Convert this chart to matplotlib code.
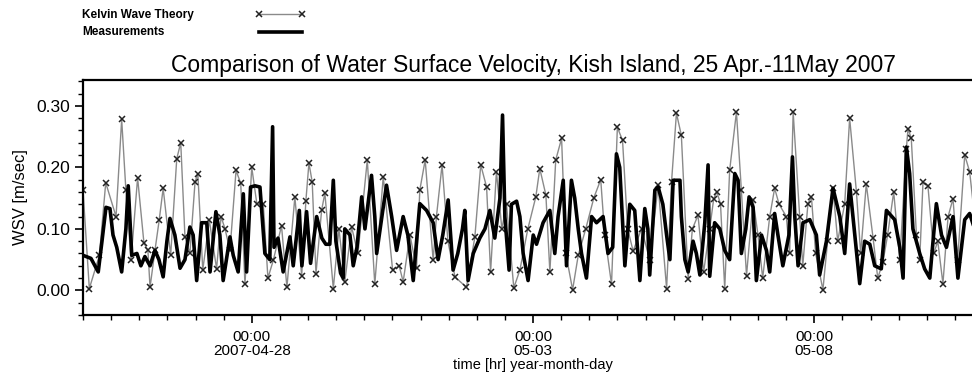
import matplotlib
matplotlib.use("Agg")
import matplotlib.pyplot as plt
import matplotlib.dates as mdates
from matplotlib.lines import Line2D
import pandas as pd
import numpy as np

plt.rcParams['font.family'] = ['Liberation Sans', 'DejaVu Sans']

start = pd.Timestamp("2007-04-25 00:00")

theory_hours = [0, 2.7, 7.0, 9.7, 14.1, 16.5, 18.3, 20.5, 23.3, 26.0, 27.7, 28.6, 30.7, 32.5, 34.2,
                37.4, 40.0, 41.7, 43.5, 45.6, 47.8, 49.0, 51.1, 53.9, 57.0, 58.9, 60.6, 62.7, 65.3,
                67.3, 69.1, 72.0, 74.2, 76.9, 78.9, 81.2, 84.7, 87.0, 90.4, 93.3, 95.1, 96.4, 97.8,
                99.4, 101.8, 103.2, 106.8, 109.2, 111.7, 114.6, 117.3, 121.3, 124.5, 128.1, 132.1,
                134.9, 136.6, 139.5, 142.3, 143.7, 146.0, 149.4, 150.8, 153.2, 155.7, 158.7, 163.6,
                167.2, 169.7, 172.2, 173.9, 176.4, 178.7, 180.7, 183.8, 186.4, 189.8, 193.2, 194.9,
                197.5, 199.2, 201.7, 204.2, 206.0, 208.9, 211.3, 214.5, 218.0, 220.9, 222.6, 225.5,
                228.0, 230.2, 232.4, 234.7, 238.3, 241.8, 245.4, 249.0, 251.1, 253.2, 255.3, 258.2,
                260.0, 262.4, 264.8, 267.4, 269.1, 270.4, 272.0, 273.8, 275.9, 278.8, 280.9, 283.1,
                285.9, 288.0, 290.0, 293.0, 295.1, 297.0, 300.1, 301.5, 303.0, 305.8, 307.1, 309.3,
                310.8, 312.6, 315.7, 317.7, 320.0, 322.0, 325.0, 327.1, 330.0, 331.8, 334.2, 337.1,
                339.1, 341.3, 343.3, 345.9, 348.5, 351.3, 352.0, 353.4, 355.6, 357.0, 358.4, 360.5,
                363.0, 364.7, 366.9, 369.1, 371.2, 373.2, 376.2, 378.3, 380.4]
theory_wsv = [0.163, 0.003, 0.057, 0.175, 0.120, 0.278, 0.163, 0.050, 0.183, 0.077, 0.065, 0.005,
              0.065, 0.114, 0.166, 0.057, 0.214, 0.240, 0.087, 0.060, 0.176, 0.190, 0.033, 0.114,
              0.035, 0.120, 0.100, 0.065, 0.195, 0.174, 0.010, 0.200, 0.140, 0.141, 0.020, 0.049,
              0.105, 0.005, 0.152, 0.024, 0.146, 0.207, 0.176, 0.027, 0.130, 0.158, 0.003, 0.100,
              0.014, 0.103, 0.060, 0.212, 0.010, 0.185, 0.033, 0.040, 0.014, 0.090, 0.036, 0.163,
              0.212, 0.049, 0.120, 0.204, 0.080, 0.022, 0.005, 0.087, 0.204, 0.168, 0.030, 0.193,
              0.100, 0.140, 0.004, 0.033, 0.100, 0.152, 0.198, 0.155, 0.030, 0.212, 0.247, 0.060,
              0.001, 0.057, 0.100, 0.151, 0.180, 0.090, 0.010, 0.265, 0.244, 0.100, 0.064, 0.100,
              0.050, 0.171, 0.003, 0.176, 0.288, 0.252, 0.019, 0.100, 0.122, 0.030, 0.100, 0.149,
              0.160, 0.141, 0.003, 0.195, 0.290, 0.163, 0.024, 0.147, 0.090, 0.020, 0.120, 0.166,
              0.140, 0.120, 0.060, 0.290, 0.120, 0.040, 0.141, 0.152, 0.060, 0.001, 0.080, 0.166,
              0.080, 0.141, 0.280, 0.160, 0.060, 0.173, 0.085, 0.020, 0.046, 0.090, 0.160, 0.050,
              0.230, 0.263, 0.247, 0.090, 0.050, 0.176, 0.170, 0.060, 0.080, 0.011, 0.120, 0.149,
              0.050, 0.220, 0.193, 0.120]

meas_hours = [0, 3.4, 6.5, 8.1, 9.8, 11.5, 12.8, 14.4, 16.5, 18.3, 19.3, 20.8, 23.0, 24.7, 26.4,
              28.6, 30.7, 32.4, 34.2, 35.8, 37.1, 39.2, 41.4, 43.5, 45.6, 47.0, 48.5, 50.6, 52.8,
              54.2, 56.7, 58.4, 59.8, 62.7, 64.1, 66.2, 68.4, 69.8, 71.5, 73.4, 75.5, 77.6, 79.7,
              80.9, 81.5, 83.2, 85.4, 88.3, 89.7, 92.3, 93.4, 95.4, 97.1, 99.7, 101.9, 103.6, 105.3,
              106.8, 107.9, 109.9, 111.0, 111.7, 113.9, 115.3, 116.9, 118.9, 120.3, 123.1, 124.5,
              125.3, 127.9, 129.5, 131.7, 133.8, 136.6, 138.6, 140.9, 143.7, 146.6, 149.4, 151.5,
              153.5, 155.8, 157.9, 159.9, 161.9, 162.9, 164.3, 166.5, 169.3, 171.5, 173.6, 175.7,
              177.9, 179.0, 180.0, 181.8, 182.8, 185.0, 186.4, 187.8, 189.9, 192.1, 193.5, 196.3,
              199.2, 201.3, 202.7, 204.9, 206.3, 208.4, 209.8, 211.3, 212.7, 214.8, 217.0, 219.1,
              221.9, 224.0, 226.0, 227.6, 229.0, 231.2, 233.3, 235.4, 237.6, 239.7, 241.0, 241.8,
              244.0, 245.4, 247.4, 249.0, 250.4, 251.8, 254.7, 255.3, 256.8, 258.2, 260.3, 261.7,
              263.2, 265.3, 266.7, 267.4, 269.5, 271.7, 273.8, 275.9, 278.1, 279.5, 280.9, 282.8,
              284.2, 285.9, 287.3, 289.5, 291.6, 293.0, 295.1, 296.5, 298.6, 301.2, 302.7, 303.7,
              305.1, 307.2, 310.1, 312.9, 314.3, 317.2, 320.0, 322.9, 325.0, 327.1, 328.5, 331.4,
              333.5, 335.7, 337.8, 340.6, 342.8, 346.3, 348.5, 349.9, 351.3, 352.7, 354.1, 357.0,
              359.1, 361.3, 364.1, 366.3, 368.4, 371.2, 373.3, 376.2, 378.3, 380.4]
meas_wsv = [0.057, 0.052, 0.030, 0.080, 0.135, 0.133, 0.090, 0.070, 0.030, 0.100, 0.170, 0.057,
            0.060, 0.040, 0.055, 0.040, 0.065, 0.050, 0.022, 0.080, 0.117, 0.090, 0.036, 0.050,
            0.103, 0.090, 0.016, 0.110, 0.110, 0.030, 0.128, 0.090, 0.016, 0.087, 0.057, 0.030,
            0.157, 0.030, 0.168, 0.170, 0.168, 0.060, 0.050, 0.266, 0.070, 0.085, 0.030, 0.087,
            0.040, 0.130, 0.040, 0.128, 0.044, 0.120, 0.085, 0.075, 0.075, 0.179, 0.080, 0.028,
            0.020, 0.100, 0.090, 0.040, 0.070, 0.152, 0.100, 0.187, 0.120, 0.060, 0.130, 0.171,
            0.120, 0.065, 0.120, 0.090, 0.016, 0.141, 0.130, 0.110, 0.050, 0.090, 0.147, 0.033,
            0.060, 0.100, 0.130, 0.016, 0.060, 0.085, 0.100, 0.130, 0.085, 0.150, 0.285, 0.120,
            0.033, 0.140, 0.145, 0.120, 0.060, 0.016, 0.090, 0.075, 0.110, 0.130, 0.060, 0.120,
            0.179, 0.040, 0.179, 0.150, 0.100, 0.060, 0.020, 0.120, 0.110, 0.120, 0.060, 0.070,
            0.222, 0.200, 0.040, 0.140, 0.130, 0.016, 0.133, 0.100, 0.025, 0.163, 0.168, 0.140,
            0.090, 0.050, 0.179, 0.179, 0.120, 0.050, 0.030, 0.080, 0.060, 0.025, 0.110, 0.204,
            0.023, 0.110, 0.100, 0.065, 0.050, 0.190, 0.179, 0.060, 0.100, 0.152, 0.135, 0.016,
            0.090, 0.065, 0.030, 0.125, 0.090, 0.040, 0.090, 0.217, 0.120, 0.040, 0.110, 0.115,
            0.090, 0.025, 0.080, 0.166, 0.120, 0.060, 0.173, 0.120, 0.011, 0.080, 0.075, 0.040,
            0.035, 0.130, 0.115, 0.070, 0.020, 0.233, 0.190, 0.100, 0.060, 0.035, 0.020, 0.141,
            0.090, 0.070, 0.120, 0.020, 0.115, 0.125, 0.100]

series_labels = ["Kelvin Wave Theory", "Measurements"]
major_tick_dates = ["2007-04-28", "2007-05-03", "2007-05-08"]
major_tick_labels = ["00:00\n2007-04-28", "00:00\n05-03", "00:00\n05-08"]
y_ticks = [0.00, 0.10, 0.20, 0.30]

theory_t = start + pd.to_timedelta(theory_hours, unit="h")
meas_t = start + pd.to_timedelta(meas_hours, unit="h")

fig = plt.figure(figsize=(9.72, 3.92), dpi=100)
ax = fig.add_axes([83 / 972, 1 - 315 / 392, 900 / 972, 235 / 392])

theory_style = dict(color="#8a8a8a", lw=1.0, marker="x", ms=4.5, mew=1.1, mec="#222222")
meas_style = dict(color="black", lw=2.6)
ax.plot(theory_t, theory_wsv, zorder=2, **theory_style)
ax.plot(meas_t, meas_wsv, zorder=3, **meas_style)

ax.set_xlim(start, start + pd.Timedelta(days=16))
ax.set_ylim(-0.04, 0.342)

ax.set_xticks(mdates.date2num(pd.to_datetime(major_tick_dates)))
ax.set_xticklabels(major_tick_labels, fontsize=11, linespacing=0.95)
ax.xaxis.set_minor_locator(mdates.HourLocator(byhour=[0, 12]))
ax.set_yticks(y_ticks)
ax.set_yticklabels([f"{v:.2f}" for v in y_ticks], fontsize=12.5)
ax.yaxis.set_minor_locator(matplotlib.ticker.MultipleLocator(0.02))

ax.tick_params(axis="both", which="major", direction="out", length=6, width=1.2)
ax.tick_params(axis="both", which="minor", direction="out", length=3.5, width=1.0)
ax.tick_params(axis="x", which="major", pad=5)
ax.tick_params(axis="y", which="major", pad=3)
for s in ax.spines.values():
    s.set_linewidth(1.6)
ax.spines["right"].set_visible(False)

ax.set_xlabel("time [hr] year-month-day", fontsize=10.5, labelpad=0.5)
ax.set_ylabel("WSV [m/sec]", fontsize=12, labelpad=6)
ax.set_title("Comparison of Water Surface Velocity, Kish Island, 25 Apr.-11May 2007",
             fontsize=16.5, pad=6)

# legend: labels on the left, line samples to the right
fig.text(82 / 972, 1 - 15 / 392, series_labels[0], fontsize=8.5, fontweight="bold", va="center")
fig.text(82 / 972, 1 - 32 / 392, series_labels[1], fontsize=8.5, fontweight="bold", va="center")
handles = [Line2D([], [], **theory_style), Line2D([], [], **meas_style)]
fig.legend(handles, ["", ""], loc="center left", bbox_to_anchor=(255 / 972, 1 - 24 / 392),
           frameon=False, handlelength=4.3, handletextpad=0, labelspacing=0.45, numpoints=2,
           prop={"size": 8.5}, borderpad=0, borderaxespad=0)

fig.savefig("out.png", dpi=100)
